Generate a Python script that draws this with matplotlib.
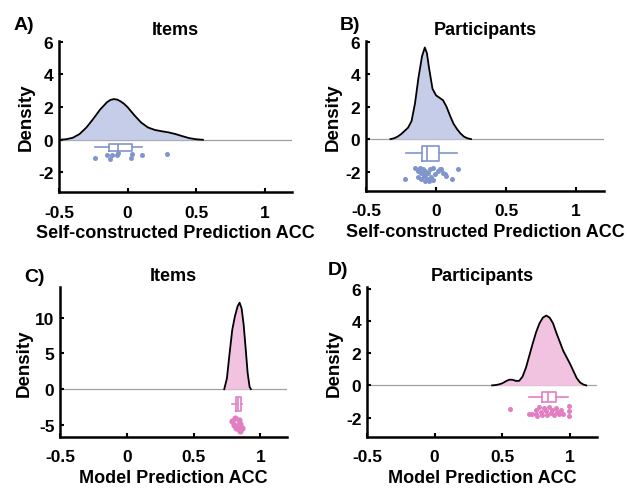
import matplotlib
matplotlib.use("Agg")
import matplotlib.pyplot as plt
import numpy as np

plt.rcParams['font.family'] = ['Liberation Sans', 'DejaVu Sans']
plt.rcParams['font.weight'] = 'bold'

# ---------------- data ----------------
# Panel A: Items, self-constructed prediction ACC
a_kde_x = [-0.5, -0.45, -0.4, -0.35, -0.3, -0.25, -0.2, -0.15, -0.125, -0.1, -0.075, -0.05, -0.025,
           0.0, 0.05, 0.1, 0.15, 0.2, 0.25, 0.3, 0.35, 0.4, 0.45, 0.5, 0.55]
a_kde_y = [0.0, 0.03, 0.12, 0.35, 0.75, 1.28, 1.85, 2.3, 2.44, 2.49, 2.46, 2.35, 2.2,
           2.0, 1.5, 1.05, 0.75, 0.6, 0.52, 0.45, 0.35, 0.22, 0.1, 0.03, 0.0]
a_pts_x = [-0.235, -0.149, -0.129, -0.112, -0.075, -0.068, 0.024, 0.035, 0.109, 0.29]
a_pts_y = [-1.13, -0.95, -1.17, -0.93, -0.95, -0.82, -1.13, -0.88, -0.95, -0.88]
a_box = dict(whislo=-0.235, q1=-0.137, med=-0.07, q3=0.031, whishi=0.105, pos=-0.47, width=0.41)

# Panel B: Participants, self-constructed prediction ACC
b_kde_x = [-0.325, -0.3, -0.275, -0.25, -0.225, -0.2, -0.175, -0.15, -0.125, -0.1, -0.08, -0.065,
           -0.05, -0.025, 0.0, 0.025, 0.05, 0.075, 0.1, 0.125, 0.15, 0.175, 0.2, 0.225, 0.25]
b_kde_y = [0.0, 0.05, 0.15, 0.3, 0.5, 0.7, 1.1, 2.2, 3.8, 5.1, 5.65, 5.3,
           4.4, 3.1, 2.7, 2.55, 2.4, 2.0, 1.45, 0.95, 0.62, 0.35, 0.15, 0.05, 0.0]
b_pts_x = [-0.219, -0.153, -0.129, -0.117, -0.105, -0.093, -0.081, -0.069, -0.086, -0.057,
           -0.045, -0.062, -0.021, -0.033, -0.009, 0.014, 0.027, 0.039, 0.05, 0.062,
           0.074, 0.115, 0.158, -0.129, -0.105, -0.081, -0.05, -0.021]
b_pts_y = [-2.44, -1.76, -1.97, -1.76, -2.07, -1.86, -1.97, -2.17, -2.28, -2.07,
           -1.82, -2.48, -1.76, -2.32, -2.17, -1.97, -1.82, -1.86, -2.07, -2.17,
           -2.28, -2.44, -1.86, -2.32, -2.48, -2.59, -2.59, -2.55]
b_box = dict(whislo=-0.215, q1=-0.1, med=-0.064, q3=0.024, whishi=0.148, pos=-0.88, width=0.93)

# Panel C: Items, model prediction ACC
c_kde_x = [0.73, 0.75, 0.77, 0.79, 0.81, 0.83, 0.845, 0.86, 0.875, 0.89, 0.905, 0.92, 0.93]
c_kde_y = [0.0, 1.5, 5.0, 8.3, 10.2, 11.6, 12.1, 11.3, 9.1, 5.8, 2.3, 0.3, 0.0]
c_pts_x = [0.787, 0.812, 0.837, 0.85, 0.825, 0.8, 0.862, 0.837, 0.85, 0.815]
c_pts_y = [-4.46, -4.08, -4.37, -4.93, -5.17, -5.03, -5.4, -5.63, -5.87, -5.5]
c_box = dict(whislo=0.79, q1=0.82, med=0.835, q3=0.855, whishi=0.862, pos=-2.04, width=2.0)

# Panel D: Participants, model prediction ACC
d_kde_x = [0.425, 0.45, 0.475, 0.5, 0.525, 0.55, 0.575, 0.6, 0.625, 0.65, 0.675, 0.7, 0.725,
           0.75, 0.775, 0.8, 0.825, 0.85, 0.875, 0.9, 0.925, 0.95, 0.975, 1.0, 1.025,
           1.05, 1.075, 1.1, 1.12]
d_kde_y = [0.0, 0.02, 0.06, 0.13, 0.25, 0.35, 0.35, 0.28, 0.28, 0.55, 1.1, 1.85, 2.6,
           3.3, 3.85, 4.2, 4.33, 4.2, 3.85, 3.25, 2.7, 2.15, 1.75, 1.35, 0.9,
           0.45, 0.18, 0.05, 0.0]
d_pts_x = [0.556, 0.694, 0.718, 0.748, 0.748, 0.76, 0.773, 0.785, 0.797, 0.81, 0.822, 0.834,
           0.847, 0.859, 0.871, 0.884, 0.896, 0.908, 0.921, 0.933, 0.95, 0.99, 0.99, 0.99]
d_pts_y = [-1.46, -1.77, -1.77, -1.5, -1.77, -1.92, -1.35, -1.64, -1.81, -1.39, -1.6, -1.81,
           -1.35, -1.71, -1.5, -1.85, -1.39, -1.64, -1.77, -1.5, -1.77, -1.29, -1.6, -1.92]
d_box = dict(whislo=0.696, q1=0.79, med=0.837, q3=0.9, whishi=0.987, pos=-0.72, width=0.63)

letters = ['A)', 'B)', 'C)', 'D)']
titles = ['Items', 'Participants', 'Items', 'Participants']
xlabels = ['Self-constructed Prediction ACC', 'Self-constructed Prediction ACC',
           'Model Prediction ACC', 'Model Prediction ACC']
xticks = [-0.5, 0, 0.5, 1]
xticklabels = ['-0.5', '0', '0.5', '1']
yticks_small = [-2, 0, 2, 4, 6]
yticks_c = [-5, 0, 5, 10]

blue_fill = '#c6cde8'
blue = '#7f95cc'
pink_fill = '#f1c3e1'
pink = '#e27fc3'

# ---------------- figure ----------------
W, H = 627, 489
fig = plt.figure(figsize=(W / 100, H / 100), dpi=100)

def px_axes(l, t, r, b):
    return fig.add_axes([l / W, 1 - b / H, (r - l) / W, (b - t) / H])

axes = [px_axes(59, 42, 292, 193), px_axes(366, 42, 604, 192),
        px_axes(60, 288, 287, 438), px_axes(367, 288, 597, 438)]

panels = [
    (a_kde_x, a_kde_y, a_pts_x, a_pts_y, a_box, blue_fill, blue, (-3.2, 6.05), yticks_small, 13),
    (b_kde_x, b_kde_y, b_pts_x, b_pts_y, b_box, blue_fill, blue, (-3.2, 6.05), yticks_small, 13),
    (c_kde_x, c_kde_y, c_pts_x, c_pts_y, c_box, pink_fill, pink, (-6.7, 14.3), yticks_c, 20),
    (d_kde_x, d_kde_y, d_pts_x, d_pts_y, d_box, pink_fill, pink, (-3.2, 6.1), yticks_small, 13),
]

for i, (ax, p) in enumerate(zip(axes, panels)):
    kx, ky, px, py, bx, fc, ec, ylim, yt, ms = p
    ax.axhline(0, color='#a0a0a0', lw=0.9, zorder=1)
    ax.fill_between(kx, 0, ky, color=fc, lw=0, zorder=2)
    ax.plot(kx, ky, color='black', lw=1.3, zorder=3)
    ax.scatter(px, py, s=ms, color=ec, lw=0, zorder=3)
    stats = [dict(whislo=bx['whislo'], q1=bx['q1'], med=bx['med'], q3=bx['q3'],
                  whishi=bx['whishi'], fliers=[])]
    ax.bxp(stats, positions=[bx['pos']], widths=bx['width'], vert=False,
           showfliers=False, showcaps=False, manage_ticks=False,
           boxprops=dict(color=ec, lw=1.2),
           medianprops=dict(color=ec, lw=1.2),
           whiskerprops=dict(color=ec, lw=1.2))
    ax.set_xlim(-0.5, 1.2)
    ax.set_ylim(*ylim)
    ax.set_xticks(xticks)
    ax.set_xticklabels(xticklabels)
    ax.set_yticks(yt)
    ax.set_yticklabels([str(v) for v in yt])
    for s in ['top', 'right']:
        ax.spines[s].set_visible(False)
    for s in ['left', 'bottom']:
        ax.spines[s].set_linewidth(1.8)
    ax.tick_params(direction='in', length=3, width=1.5, labelsize=12.5)
    ax.tick_params(axis='x', pad=9)
    ax.tick_params(axis='y', pad=4)
    for lab in ax.get_xticklabels() + ax.get_yticklabels():
        lab.set_fontweight('bold')
    ax.set_xlabel(xlabels[i], fontsize=13, fontweight='bold', labelpad=3)
    ax.set_ylabel('Density', fontsize=13.5, fontweight='bold', labelpad=2)
    ax.set_title(titles[i], fontsize=13, fontweight='bold', pad=5)

letter_pos = [(14, 30), (340, 30), (24, 282), (328, 275)]
for (lx, ly), t in zip(letter_pos, letters):
    fig.text(lx / W, 1 - ly / H, t, fontsize=14, fontweight='bold', ha='left', va='baseline')

fig.savefig('out.png', dpi=100)
